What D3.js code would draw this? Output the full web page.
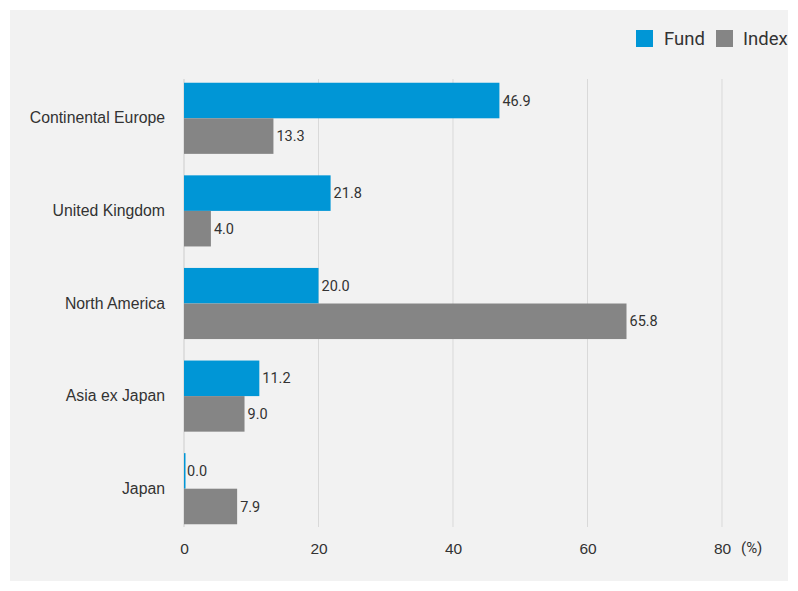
<!DOCTYPE html>
<html>
<head>
<meta charset="utf-8">
<script src="https://cdn.jsdelivr.net/npm/d3@7"></script>
<style>
  html, body { margin: 0; padding: 0; background: #fff; }
  svg { display: block; }
</style>
</head>
<body>
<div id="chart"></div>
<script>
const regions = ['Continental Europe', 'United Kingdom', 'North America', 'Asia ex Japan', 'Japan'];
const fundValues = [46.9, 21.8, 20.0, 11.2, 0.0];
const indexValues = [13.3, 4.0, 65.8, 9.0, 7.9];
const seriesNames = ['Fund', 'Index'];
const xTicks = [0, 20, 40, 60, 80];

const width = 798, height = 591;
const colors = { Fund: '#0096d6', Index: '#858585' };

const data = regions.map((r, i) => ({ region: r, Fund: fundValues[i], Index: indexValues[i] }));

const svg = d3.select('#chart').append('svg')
  .attr('width', width)
  .attr('height', height)
  .style('font-family', 'Roboto, "Liberation Sans", Arial, sans-serif');

// panel background
svg.append('rect')
  .attr('x', 10).attr('y', 10)
  .attr('width', 778).attr('height', 571)
  .attr('fill', '#f2f2f2');

const xScale = d3.scaleLinear().domain([0, 80]).range([184, 722]);
const yScale = d3.scaleBand().domain(regions).range([72, 535]).paddingInner(0.232).paddingOuter(0.116);
const inner = d3.scaleBand().domain(seriesNames).range([0, yScale.bandwidth()]);

// gridlines
svg.append('g')
  .selectAll('line')
  .data(xTicks)
  .enter()
  .append('line')
  .attr('x1', d => xScale(d))
  .attr('x2', d => xScale(d))
  .attr('y1', 79)
  .attr('y2', 527)
  .attr('stroke', '#d9d9d9')
  .attr('stroke-width', d => d === 0 ? 1.5 : 1);

// x axis labels
const xAxis = d3.axisBottom(xScale).tickValues(xTicks).tickSize(0).tickPadding(0).tickFormat(d3.format('d'));
const xg = svg.append('g').attr('transform', 'translate(0,543)').call(xAxis);
xg.select('.domain').remove();
xg.selectAll('text').attr('font-size', 15.5).attr('fill', '#333').attr('font-family', null);

svg.append('text')
  .attr('x', 741)
  .attr('y', 553)
  .attr('font-size', 15)
  .attr('fill', '#333')
  .text('(%)');

// category labels
const yAxis = d3.axisLeft(yScale).tickSize(0).tickPadding(19);
const yg = svg.append('g').attr('transform', 'translate(184,0)').call(yAxis);
yg.select('.domain').remove();
yg.selectAll('text').attr('font-size', 15.8).attr('fill', '#333').attr('font-family', null);

// bars
const groups = svg.selectAll('.group')
  .data(data)
  .enter()
  .append('g')
  .attr('class', 'group')
  .attr('transform', d => `translate(0,${yScale(d.region)})`);

seriesNames.forEach(s => {
  groups.append('rect')
    .attr('x', xScale(0))
    .attr('y', inner(s))
    .attr('width', d => Math.max(xScale(d[s]) - xScale(0), 1.5))
    .attr('height', inner.bandwidth())
    .attr('fill', colors[s]);

  groups.append('text')
    .attr('x', d => xScale(d[s]) + 3)
    .attr('y', inner(s) + inner.bandwidth() / 2)
    .attr('dy', '0.35em')
    .attr('font-size', 14.5)
    .attr('fill', '#333')
    .text(d => d3.format('.1f')(d[s]));
});

// legend
const legendItems = [
  { name: 'Fund', x: 636, tx: 664 },
  { name: 'Index', x: 716, tx: 743 }
];
const legend = svg.append('g');
legend.selectAll('rect')
  .data(legendItems)
  .enter()
  .append('rect')
  .attr('x', d => d.x)
  .attr('y', 30)
  .attr('width', 17)
  .attr('height', 17)
  .attr('fill', d => colors[d.name]);
legend.selectAll('text')
  .data(legendItems)
  .enter()
  .append('text')
  .attr('x', d => d.tx)
  .attr('y', 39)
  .attr('dy', '0.35em')
  .attr('font-size', 18.5)
  .attr('fill', '#333')
  .text(d => d.name);
</script>
</body>
</html>
